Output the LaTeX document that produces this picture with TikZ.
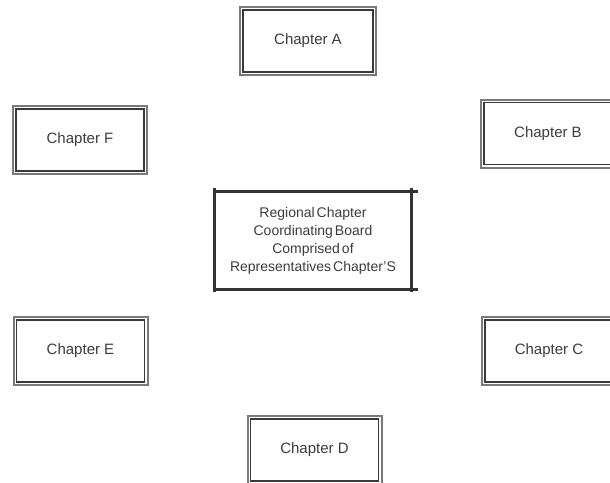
\documentclass[tikz,border=0pt]{standalone}
\usepackage{fontspec}
\setmainfont{Liberation Sans}
\definecolor{outerc}{HTML}{7A7A7A}
\definecolor{innerc}{HTML}{3A3A3A}
\definecolor{txt}{HTML}{3C3C3C}
\definecolor{boardc}{HTML}{333333}
\newcommand{\boardfont}{\fontsize{14}{18}\selectfont\spaceskip=2pt plus 0pt minus 0pt\relax}
\begin{document}
\begin{tikzpicture}[x=1pt,y=-1pt,
  chapbox/.style={draw=outerc, line width=2pt, fill=white, minimum width=134pt,
    minimum height=68pt, inner sep=0pt, text=txt, font=\fontsize{15}{17}\selectfont},
  innerline/.style={draw=innerc, line width=1.4pt},
  boardline/.style={draw=boardc, line width=3pt},
  boardtext/.style={minimum width=196pt, minimum height=97pt, inner sep=0pt,
    align=center, text=txt, font=\boardfont}]
\useasboundingbox (0,0) rectangle (610,482);
\clip (0,0) rectangle (610,482);
\node[chapbox, minimum width=136pt] (A) at (308,41) {Chapter A};
\node[chapbox] (B) at (548,133.5) {Chapter B};
\node[chapbox] (C) at (549,351) {Chapter C};
\node[chapbox] (D) at (314.5,450) {Chapter D};
\node[chapbox] (E) at (80.5,351) {Chapter E};
\node[chapbox] (F) at (80,140) {Chapter F};
\foreach \n in {A,B,C,D,E,F}
  \draw[innerline] ([shift={(4,4)}]\n.north west) rectangle ([shift={(-4,-4)}]\n.south east);
\node[boardtext] (R) at (313,240.5) {Regional Chapter\\Coordinating Board\\Comprised of\\Representatives Chapter'S};
\draw[boardline] ([shift={(0,-4)}]R.north west) -- ([shift={(0,3)}]R.south west);
\draw[boardline] ([shift={(0,-4)}]R.north east) -- ([shift={(0,3)}]R.south east);
\draw[boardline] ([shift={(-1,0)}]R.north west) -- ([shift={(7,0)}]R.north east);
\draw[boardline] ([shift={(-1,0)}]R.south west) -- ([shift={(7,0)}]R.south east);
\end{tikzpicture}
\end{document}
